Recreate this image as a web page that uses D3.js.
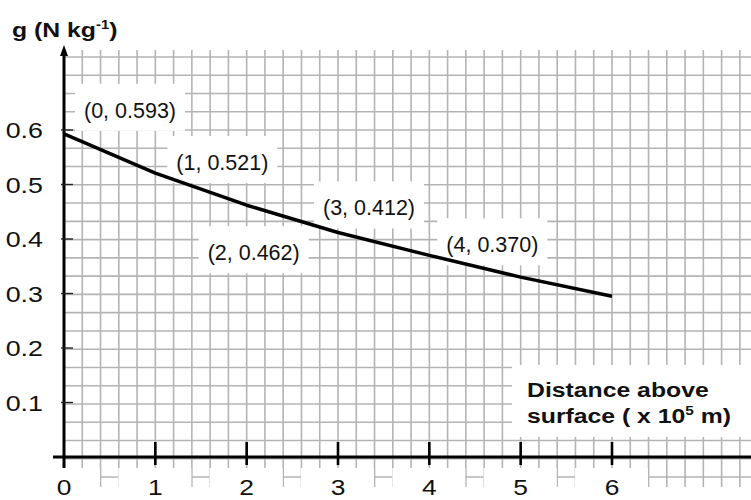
<!DOCTYPE html>
<html>
<head>
<meta charset="utf-8">
<script src="https://cdn.jsdelivr.net/npm/d3@7"></script>
<style>
  body { margin: 0; background: #fff; }
  svg { display: block; font-family: "Liberation Sans", Arial, sans-serif; }
</style>
</head>
<body>
<div id="chart"></div>
<script>
// Data
const distance = [0, 1, 2, 3, 4, 5, 6];            // x 10^5 m
const gValues = [0.593, 0.521, 0.462, 0.412, 0.370, 0.330, 0.295]; // N/kg
const pointLabels = ["(0, 0.593)", "(1, 0.521)", "(2, 0.462)", "(3, 0.412)", "(4, 0.370)"];
const xTicks = [0, 1, 2, 3, 4, 5, 6];
const yTicks = [0.1, 0.2, 0.3, 0.4, 0.5, 0.6];

// where each point label sits, relative to its point (layout only)
const labelOffsets = [[66, -16], [67, -3], [7, 55], [31, -17], [63, -3]];

const width = 751, height = 500;

const x = d3.scaleLinear().domain([0, 6]).range([64, 612]);
const y = d3.scaleLinear().domain([0, 0.6]).range([457, 130]);
const cell = (x(1) - x(0)) / 5; // square grid, 5 cells per unit

const svg = d3.select('#chart').append('svg')
  .attr('width', width)
  .attr('height', height);

// _________Grid paper_________
const grid = svg.append('g')
  .attr('stroke', '#b4b4b4')
  .attr('stroke-width', 1.6);

grid.selectAll('.hline').data(d3.range(-4, 20)).enter()
  .append('line')
  .attr('x1', x(0)).attr('x2', width)
  .attr('y1', k => y(0.6) + k * cell)
  .attr('y2', k => y(0.6) + k * cell);

grid.selectAll('.vline').data(d3.range(1, 38)).enter()
  .append('line')
  .attr('y1', 50).attr('y2', 487)
  .attr('x1', k => x(0) + k * cell)
  .attr('x2', k => x(0) + k * cell);

// white patches behind x tick labels
svg.selectAll('.xbox').data(xTicks).enter()
  .append('rect')
  .attr('x', d => x(d) - 37)
  .attr('y', 468)
  .attr('width', 73)
  .attr('height', 40)
  .attr('fill', '#fff');

// white patch behind x axis title
svg.append('rect')
  .attr('x', 512).attr('y', 365)
  .attr('width', 250).attr('height', 72)
  .attr('fill', '#fff');

// point label boxes + texts
const labels = svg.append('g');
pointLabels.forEach((txt, i) => {
  const cx = x(distance[i]) + labelOffsets[i][0];
  const base = y(gValues[i]) + labelOffsets[i][1];
  const box = labels.append('rect').attr('fill', '#fff');
  const t = labels.append('text')
    .attr('x', cx).attr('y', base)
    .attr('text-anchor', 'middle')
    .attr('font-size', '21.5px')
    .attr('fill', '#111')
    .text(txt);
  const w = t.node().getComputedTextLength();
  box.attr('x', cx - w / 2 - 9).attr('y', base - 34)
    .attr('width', w + 18).attr('height', 47);
  t.raise();
});

// _________Axes_________
svg.append('line')
  .attr('x1', x(0)).attr('x2', x(0))
  .attr('y1', 54).attr('y2', 468)
  .attr('stroke', '#000').attr('stroke-width', 3);
svg.append('path')
  .attr('d', `M${x(0)},45 L${x(0) - 4},56 L${x(0) + 4},56 Z`)
  .attr('fill', '#000');
svg.append('line')
  .attr('x1', 53).attr('x2', width)
  .attr('y1', y(0)).attr('y2', y(0))
  .attr('stroke', '#000').attr('stroke-width', 3);

// x ticks (skip 0, the y axis is there)
svg.selectAll('.xtick').data(xTicks.slice(1)).enter()
  .append('line')
  .attr('x1', d => x(d)).attr('x2', d => x(d))
  .attr('y1', 442).attr('y2', 465)
  .attr('stroke', '#000').attr('stroke-width', 2.6);

svg.selectAll('.ytick').data(yTicks).enter()
  .append('line')
  .attr('x1', x(0) - 3).attr('x2', x(0) + 9)
  .attr('y1', d => y(d)).attr('y2', d => y(d))
  .attr('stroke', '#222').attr('stroke-width', 1.4);

// tick labels (the original font is drawn a bit wide)
svg.selectAll('.xlabel').data(xTicks).enter()
  .append('text')
  .attr('transform', d => `translate(${x(d)},495) scale(1.2,1)`)
  .attr('text-anchor', 'middle')
  .attr('font-size', '22px')
  .attr('fill', '#111')
  .text(d => d);

svg.selectAll('.ylabel').data(yTicks).enter()
  .append('text')
  .attr('transform', d => `translate(43,${y(d) + 8}) scale(1.22,1)`)
  .attr('text-anchor', 'end')
  .attr('font-size', '22px')
  .attr('fill', '#111')
  .text(d => d.toFixed(1));

// _________Curve_________
const line = d3.line()
  .x(d => x(d[0]))
  .y(d => y(d[1]));

svg.append('path')
  .datum(d3.zip(distance, gValues))
  .attr('d', line)
  .attr('fill', 'none')
  .attr('stroke', '#000')
  .attr('stroke-width', 3.5)
  .attr('stroke-linejoin', 'round');

// _________Titles_________
const yTitle = svg.append('text')
  .attr('transform', 'translate(12,37) scale(1.24,1)')
  .attr('font-size', '20px')
  .attr('font-weight', 'bold')
  .attr('fill', '#111');
yTitle.append('tspan').text('g (N kg');
yTitle.append('tspan').attr('font-size', '12px').attr('dy', -8).text('-1');
yTitle.append('tspan').attr('dy', 8).text(')');

const xTitle = svg.append('g')
  .attr('font-size', '21px')
  .attr('font-weight', 'bold')
  .attr('fill', '#111');
xTitle.append('text')
  .attr('transform', 'translate(527,397) scale(1.18,1)')
  .text('Distance above');
const xt2 = xTitle.append('text')
  .attr('transform', 'translate(527,423) scale(1.18,1)');
xt2.append('tspan').text('surface ( x 10');
xt2.append('tspan').attr('font-size', '13px').attr('dy', -8).text('5');
xt2.append('tspan').attr('dy', 8).text(' m)');
</script>
</body>
</html>
